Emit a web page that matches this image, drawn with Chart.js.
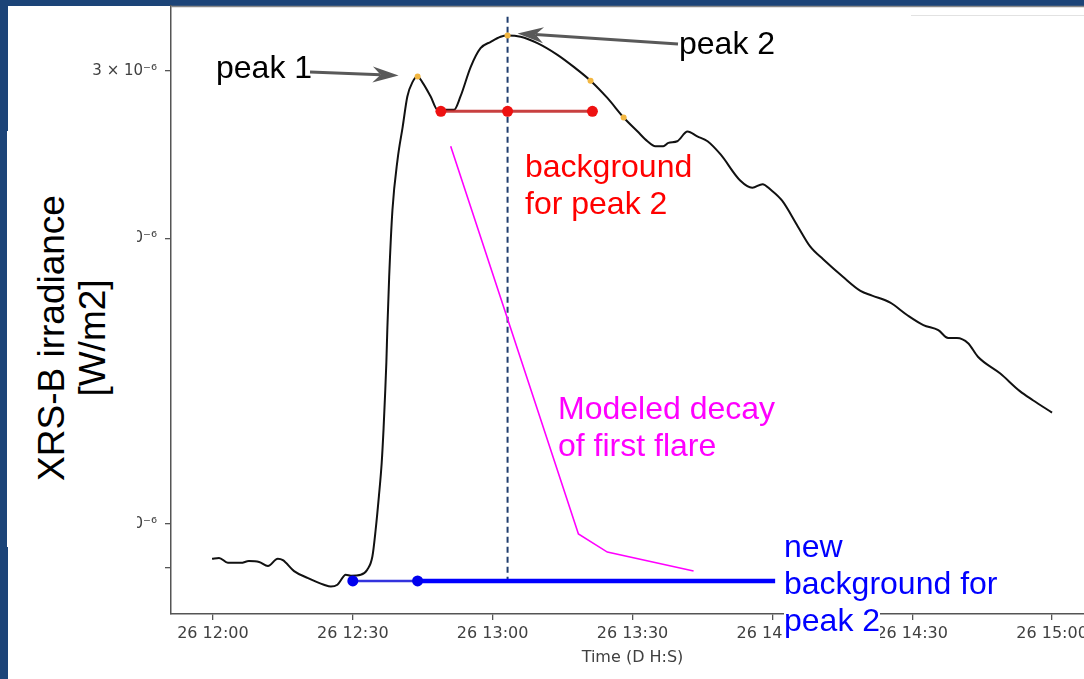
<!DOCTYPE html>
<html>
<head>
<meta charset="utf-8">
<script src="https://cdn.jsdelivr.net/npm/chart.js@4.4.0/dist/chart.umd.min.js"></script>
<style>
    html, body { margin: 0; padding: 0; width: 1084px; height: 679px; overflow: hidden; background: #1c4478; }
    #panel { position: absolute; left: 8px; top: 6px; right: 0; bottom: 0; background: #fff; }
    #myChart { position: absolute; left: 0; top: 0; }
    #legendEdge { position: absolute; left: 911px; top: 15px; width: 180px; height: 0; border-top: 1px solid #e2e2e2; }
    #ylabelBox { position: absolute; left: 7px; top: 131px; width: 130px; height: 416px; background: #fff; }
    #ylabel { position: absolute; left: -88px; top: 297px; width: 320px; height: 82px; font-family: 'Liberation Sans', Arial, sans-serif; font-size: 37px; line-height: 41px; text-align: center; color: #000; transform: rotate(-90deg); }
    .note { position: absolute; font-family: 'Liberation Sans', Arial, sans-serif; font-size: 32px; line-height: 37px; white-space: nowrap; }
    .cover { background: #fff; }
</style>
</head>
<body>
<div id="panel"></div>
<div id="legendEdge"></div>
<canvas id="myChart" width="1100" height="679"></canvas>
<div id="ylabelBox"></div>
<div id="ylabel">XRS-B irradiance<br>[W/m2]</div>
<div class="note" style="left:216px; top:49px; color:#000;">peak 1</div>
<div class="note" style="left:679px; top:25px; color:#000;">peak 2</div>
<div class="note" style="left:525px; top:148px; color:#ff0000;">background<br>for peak 2</div>
<div class="note" style="left:558px; top:390px; color:#ff00ff;">Modeled decay<br>of first flare</div>
<div class="note" style="left:784px; top:528px; color:#0000ff;">new<br>background for<br><span class="cover">peak 2</span></div>
<script>
const ctx = document.getElementById('myChart');

// minutes after 26 12:00, XRS-B flux in W/m2
const curveTimes = [-0.2, 1.3, 3.2, 6.0, 7.7, 9.9, 11.8, 13.9, 15.0, 17.4, 20.4, 23.8, 25.3, 26.7, 28.5, 29.6,
    31.7, 33.1, 34.2, 34.9, 35.6, 36.2, 36.6, 36.9, 37.2, 37.4, 37.8, 38.5, 39.6, 40.7, 41.7, 42.8, 43.9,
    44.9, 46.7, 48.2, 51.7, 53.1, 55.3, 57.4, 59.6, 61.7, 63.2, 66.0, 69.6, 73.9, 77.4, 81.0, 84.6, 88.1,
    91.1, 93.2, 94.9, 96.6, 97.7, 99.6, 101.8, 103.9, 106.1, 108.9, 113.1, 115.7, 117.9, 119.6, 122.1,
    125.4, 128.1, 130.9, 135.2, 138.9, 141.4, 145.3, 148.9, 152.4, 155.6, 157.7, 159.6, 162.0, 164.1,
    168.9, 173.1, 175.9, 180.0];
const curveFlux = [9.19e-7, 9.21e-7, 9.10e-7, 9.10e-7, 9.14e-7, 9.12e-7, 9.03e-7, 9.19e-7, 9.16e-7, 8.92e-7,
    8.77e-7, 8.63e-7, 8.59e-7, 8.63e-7, 8.84e-7, 8.82e-7, 8.84e-7, 8.95e-7, 9.24e-7, 9.86e-7, 1.07e-6,
    1.16e-6, 1.26e-6, 1.36e-6, 1.48e-6, 1.60e-6, 1.82e-6, 2.14e-6, 2.42e-6, 2.62e-6, 2.82e-6, 2.92e-6,
    2.96e-6, 2.92e-6, 2.82e-6, 2.73e-6, 2.73e-6, 2.82e-6, 3.03e-6, 3.17e-6, 3.22e-6, 3.26e-6, 3.27e-6,
    3.26e-6, 3.21e-6, 3.12e-6, 3.03e-6, 2.93e-6, 2.81e-6, 2.68e-6, 2.59e-6, 2.53e-6, 2.50e-6, 2.50e-6,
    2.52e-6, 2.53e-6, 2.59e-6, 2.56e-6, 2.53e-6, 2.45e-6, 2.30e-6, 2.26e-6, 2.28e-6, 2.25e-6, 2.19e-6,
    2.06e-6, 1.96e-6, 1.90e-6, 1.82e-6, 1.76e-6, 1.74e-6, 1.71e-6, 1.66e-6, 1.62e-6, 1.60e-6, 1.57e-6,
    1.57e-6, 1.55e-6, 1.50e-6, 1.44e-6, 1.38e-6, 1.35e-6, 1.31e-6];

const peakTimes = [43.9, 63.2, 81.0, 88.1];
const peakFlux = [2.96e-6, 3.27e-6, 2.93e-6, 2.68e-6];

const bgPeak2Times = [48.9, 63.2, 81.4];
const bgPeak2Flux = [2.72e-6, 2.72e-6, 2.72e-6];

const newBgTimes = [30.0, 43.9];
const newBgFlux = [8.71e-7, 8.71e-7];
const newBgExtTimes = [43.9, 120.6];
const newBgExtFlux = [8.71e-7, 8.71e-7];

const decayTimes = [51.0, 78.4, 84.6, 103.1];
const decayFlux = [2.50e-6, 9.76e-7, 9.34e-7, 8.92e-7];

const peak2LineTimes = [63.2, 63.2];
const peak2LineFlux = [8.67e-7, 3.44e-6];

const xTickValues = [0, 30, 60, 90, 120, 150, 180];
const xTickLabels = ['26 12:00', '26 12:30', '26 13:00', '26 13:30', '26 14:00', '26 14:30', '26 15:00'];
const yTickValues = [9e-7, 1e-6, 2e-6, 3e-6];
const yTickLabels = ['', '10⁻⁶', '2 × 10⁻⁶', '3 × 10⁻⁶'];

function toPoints(xs, ys) {
    return xs.map((t, i) => ({ x: t, y: ys[i] }));
}

function drawArrow(c, x0, y0, x1, y1) {
    const a = Math.atan2(y1 - y0, x1 - x0);
    const len = 26, half = 8, notch = 18;
    c.save();
    c.strokeStyle = '#595959';
    c.fillStyle = '#595959';
    c.lineWidth = 3;
    c.beginPath();
    c.moveTo(x0, y0);
    c.lineTo(x1 - Math.cos(a) * notch, y1 - Math.sin(a) * notch);
    c.stroke();
    c.translate(x1, y1);
    c.rotate(a);
    c.beginPath();
    c.moveTo(0, 0);
    c.lineTo(-len, -half);
    c.lineTo(-notch, 0);
    c.lineTo(-len, half);
    c.closePath();
    c.fill();
    c.restore();
}

// top spine + the two arrows pointing at the peaks
const extras = {
    id: 'extras',
    afterDraw(chart) {
        const { ctx: c, chartArea: area, scales: { x, y } } = chart;
        c.save();
        c.strokeStyle = '#888';
        c.lineWidth = 1.5;
        c.beginPath();
        c.moveTo(area.left, area.top + 0.5);
        c.lineTo(area.right, area.top + 0.5);
        c.stroke();
        c.restore();
        drawArrow(c, 310, 72, x.getPixelForValue(peakTimes[0]) - 19, y.getPixelForValue(peakFlux[0]) - 1);
        drawArrow(c, 678, 44, x.getPixelForValue(peakTimes[1]) + 10, y.getPixelForValue(peakFlux[1]) - 2);
    }
};

new Chart(ctx, {
    type: 'line',
    data: {
        datasets: [{
            label: 'XRS-B',
            data: toPoints(curveTimes, curveFlux),
            borderColor: '#111',
            borderWidth: 2,
            pointRadius: 0,
            cubicInterpolationMode: 'monotone',
            order: 5,
        }, {
            label: 'peak 2 time',
            data: toPoints(peak2LineTimes, peak2LineFlux),
            borderColor: '#1f3d6d',
            borderWidth: 2,
            borderDash: [6, 4],
            pointRadius: 0,
            order: 6,
        }, {
            label: 'modeled decay',
            data: toPoints(decayTimes, decayFlux),
            borderColor: '#ff00ff',
            borderWidth: 1.6,
            pointRadius: 0,
            order: 4,
        }, {
            label: 'background peak 2',
            data: toPoints(bgPeak2Times, bgPeak2Flux),
            borderColor: 'rgba(190, 30, 30, 0.85)',
            borderWidth: 3,
            pointRadius: 5.5,
            pointBorderWidth: 0,
            pointBackgroundColor: '#ee1111',
            order: 2,
        }, {
            label: 'new background ext',
            data: toPoints(newBgExtTimes, newBgExtFlux),
            borderColor: '#0000ff',
            borderWidth: 4.5,
            pointRadius: 0,
            order: 3,
        }, {
            label: 'new background',
            data: toPoints(newBgTimes, newBgFlux),
            borderColor: '#3333dd',
            borderWidth: 2.5,
            pointRadius: 5.5,
            pointBorderWidth: 0,
            pointBackgroundColor: '#0000ee',
            order: 2,
        }, {
            label: 'peaks',
            data: toPoints(peakTimes, peakFlux),
            showLine: false,
            pointRadius: 3,
            pointBorderWidth: 0,
            pointBackgroundColor: '#f2b640',
            order: 1,
        }]
    },
    options: {
        responsive: false,
        animation: false,
        devicePixelRatio: 1,
        layout: { autoPadding: false, padding: { left: 0, top: 6, right: 6, bottom: 0 } },
        plugins: {
            legend: { display: false },
            tooltip: { enabled: false },
        },
        scales: {
            x: {
                type: 'linear',
                min: -9,
                max: 189,
                afterFit(s) { s.height = 65; s.paddingLeft = 0; s.paddingRight = 0; },
                afterBuildTicks(s) { s.ticks = xTickValues.map(v => ({ value: v })); },
                ticks: {
                    callback: (v, i) => xTickLabels[i],
                    font: { family: 'DejaVu Sans', size: 16 },
                    color: '#404040',
                    padding: 4,
                    maxRotation: 0,
                    autoSkip: false,
                },
                grid: { drawOnChartArea: false, tickLength: 6, color: '#555', lineWidth: 1.3 },
                border: { color: '#555', width: 1.5 },
                title: {
                    display: true,
                    text: 'Time (D H:S)',
                    color: '#404040',
                    font: { family: 'DejaVu Sans', size: 16 },
                    padding: { top: 0, bottom: 12 },
                },
            },
            y: {
                type: 'logarithmic',
                min: 0.8038e-6,
                max: 3.512e-6,
                afterFit(s) { s.width = 171; s.paddingTop = 0; s.paddingBottom = 0; },
                afterBuildTicks(s) { s.ticks = yTickValues.map(v => ({ value: v })); },
                ticks: {
                    callback: (v, i) => yTickLabels[i],
                    font: { family: 'DejaVu Sans', size: 15 },
                    color: '#404040',
                    padding: 8,
                    autoSkip: false,
                },
                grid: { drawOnChartArea: false, tickLength: 6, color: '#555', lineWidth: 1.3 },
                border: { color: '#555', width: 1.5 },
            }
        }
    },
    plugins: [extras]
});
</script>
</body>
</html>
